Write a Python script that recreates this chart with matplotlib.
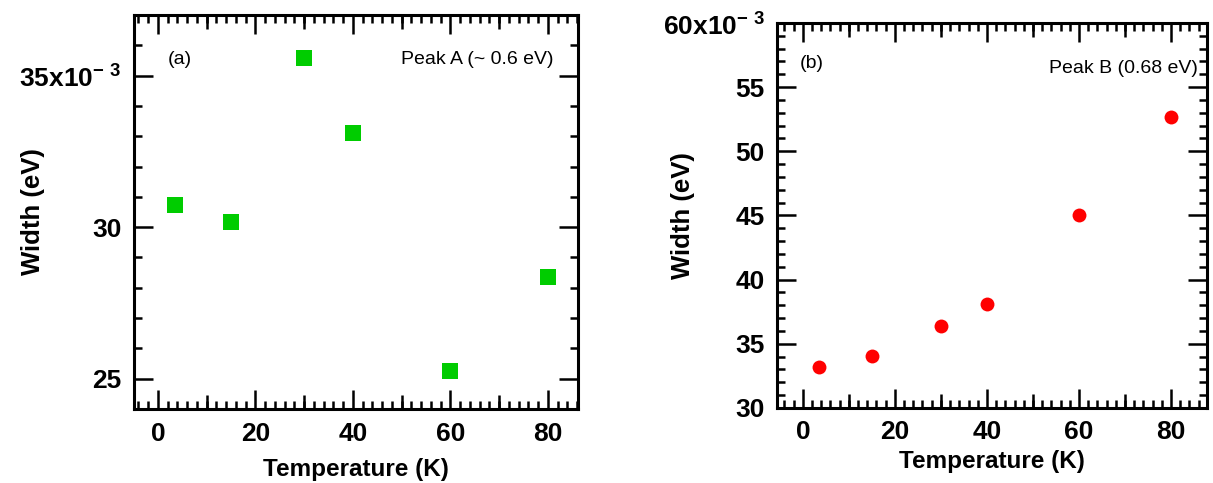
import matplotlib
matplotlib.use('Agg')
import matplotlib.pyplot as plt
from matplotlib.ticker import MultipleLocator, FixedLocator

plt.rcParams['font.family'] = ['Liberation Sans', 'DejaVu Sans']
plt.rcParams['mathtext.fontset'] = 'custom'
plt.rcParams['mathtext.rm'] = 'Liberation Sans'
plt.rcParams['mathtext.bf'] = 'Liberation Sans:bold'

# ── data (width in units of 1e-3 eV) ──────────────────────
temp_a = [3.5, 15, 30, 40, 60, 80]
width_a = [30.74, 30.17, 35.58, 33.09, 25.25, 28.36]

temp_b = [3.5, 15, 30, 40, 60, 80]
width_b = [33.18, 34.04, 36.37, 38.10, 45.01, 52.67]

xticks = [0, 20, 40, 60, 80]
yticks_a = [25, 30, 35]
ylabels_a = ['25', '30', r'35x10$^{\mathbf{-\ 3}}$']
yticks_b = [30, 35, 40, 45, 50, 55, 60]
ylabels_b = ['30', '35', '40', '45', '50', '55', r'60x10$^{\mathbf{-\ 3}}$']

fig = plt.figure(figsize=(12.13, 4.83), dpi=100)
ax_a = fig.add_axes([0.1105, 0.1532, 0.366, 0.8158])
ax_b = fig.add_axes([0.6406, 0.1553, 0.3544, 0.7971])


def style_axes(ax, xpad):
    for s in ax.spines.values():
        s.set_linewidth(2.2)
    ax.xaxis.set_major_locator(FixedLocator(xticks))
    ax.xaxis.set_minor_locator(MultipleLocator(2))
    ax.yaxis.set_minor_locator(MultipleLocator(1))
    ax.tick_params(which='both', direction='in', top=True, right=True, width=1.8)
    ax.tick_params(which='major', length=14, pad=9, labelsize=19)
    ax.tick_params(which='minor', length=6)
    for lab in ax.get_xticklabels() + ax.get_yticklabels():
        lab.set_fontweight('bold')
    # medium ticks at odd multiples of 10
    for loc in ('bottom', 'top'):
        sec = ax.secondary_xaxis(loc)
        sec.set_xticks([10, 30, 50, 70])
        sec.tick_params(direction='in', length=10, width=1.8,
                        labelbottom=False, labeltop=False)
        for s in sec.spines.values():
            s.set_visible(False)
    ax.set_xlabel('Temperature (K)', fontsize=17.5, fontweight='bold', labelpad=xpad)
    ax.set_ylabel('Width (eV)', fontsize=18.5, fontweight='bold')


# panel (a)
ax_a.plot(temp_a, width_a, 's', color='#00CC00', markersize=11, markeredgewidth=0)
ax_a.set_xlim(-4.9, 86.2)
ax_a.set_ylim(24.0, 37.0)
ax_a.set_yticks(yticks_a)
ax_a.set_yticklabels(ylabels_a)
style_axes(ax_a, 9)
ax_a.yaxis.set_label_coords(-0.20, 0.5)
ax_a.text(0.077, 0.886, '(a)', transform=ax_a.transAxes, fontsize=14, va='center')
ax_a.text(0.944, 0.886, 'Peak A (~ 0.6 eV)', transform=ax_a.transAxes,
          fontsize=14, ha='right', va='center')

# panel (b)
ax_b.plot(temp_b, width_b, 'o', color='#FF0000', markersize=10, markeredgewidth=0)
ax_b.set_xlim(-5.6, 87.8)
ax_b.set_ylim(30, 60)
ax_b.set_yticks(yticks_b)
ax_b.set_yticklabels(ylabels_b)
style_axes(ax_b, 4)
ax_b.yaxis.set_label_coords(-0.191, 0.5)
ax_b.text(0.053, 0.896, '(b)', transform=ax_b.transAxes, fontsize=14, va='center')
ax_b.text(0.98, 0.883, 'Peak B (0.68 eV)', transform=ax_b.transAxes,
          fontsize=14, ha='right', va='center')

fig.savefig('out.png', dpi=100)
